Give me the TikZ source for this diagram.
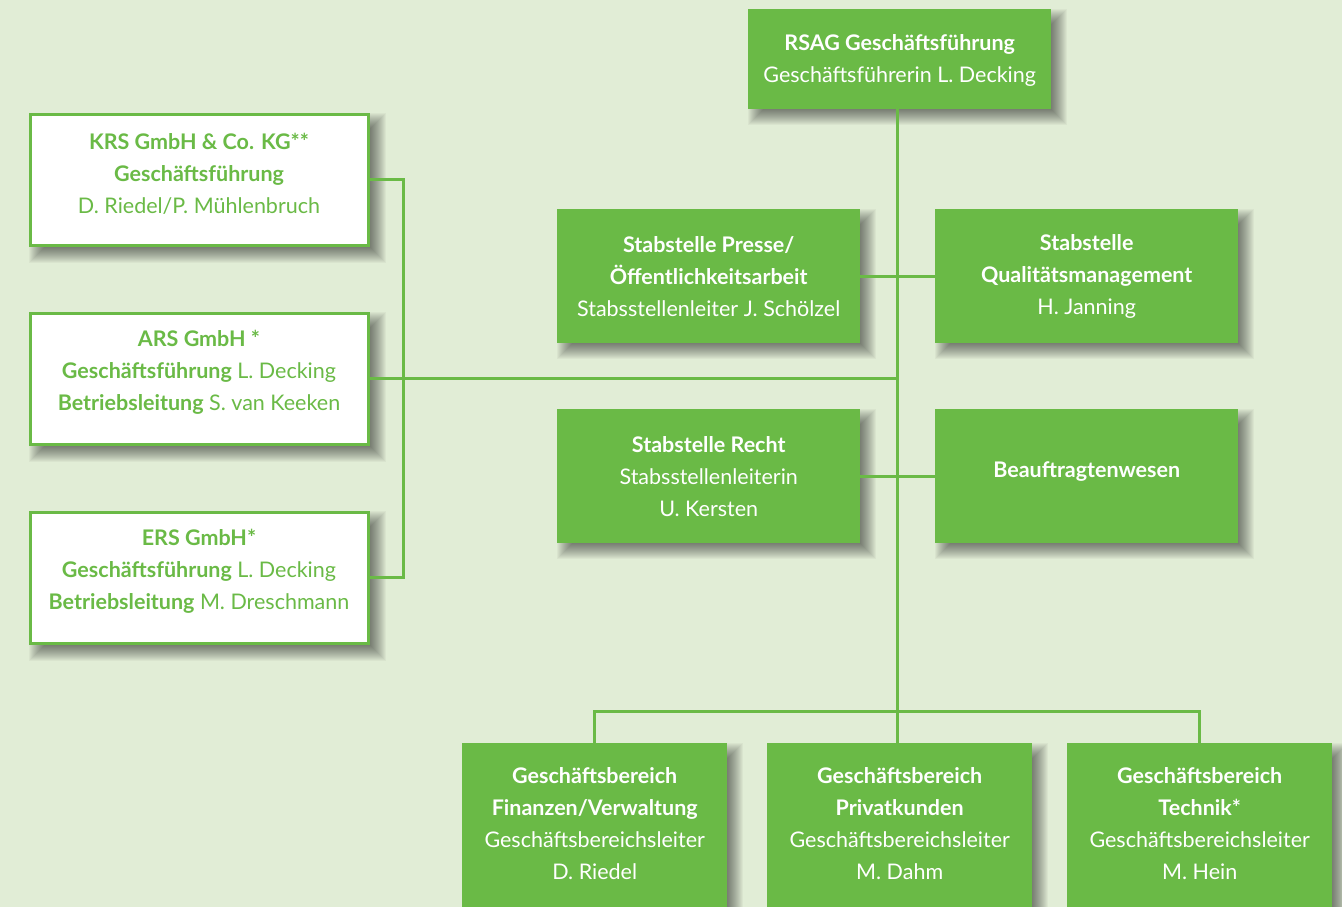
\documentclass[tikz,border=0pt]{standalone}
\usepackage{fontspec}
\setmainfont{Lato}
\definecolor{rsgreen}{HTML}{6ABA46}
\definecolor{bgc}{HTML}{E1EDD6}
\pgfdeclarelayer{bglayer}
\pgfdeclarelayer{shadowlayer}
\pgfsetlayers{bglayer,shadowlayer,main}
\begin{document}
\begin{tikzpicture}[x=1pt,y=-1pt,
  every node/.style={font=\fontsize{21.5}{32}\selectfont, align=center, inner sep=0pt},
  gbox/.style={fill=rsgreen, text=white, anchor=north west},
  wbox/.style={fill=white, draw=rsgreen, line width=3pt, anchor=north west},
  txt/.style={text=white},
  wtxt/.style={text=rsgreen},
  shadowpiece/.style={fill=black, opacity=0.036},
  link/.style={draw=rsgreen, line width=3pt}]
\useasboundingbox (0,0) rectangle (1342,907);
\clip (0,0) rectangle (1342,907);
\begin{pgfonlayer}{bglayer}
\fill[bgc] (0,0) rectangle (1342,907);
\end{pgfonlayer}

% top
\node[gbox, minimum width=303pt, minimum height=100pt] (rsag) at (748,9) {};
\node[txt] (rsagtxt) at ([yshift=-1.5pt]rsag.center)
  {\textbf{RSAG Geschäftsführung}\\Geschäftsführerin L. Decking};

% left companies
\node[wbox, minimum width=338pt, minimum height=131pt] (krs) at (28.5,112.5) {};
\node[wbox, minimum width=338pt, minimum height=131pt] (ars) at (28.5,311.5) {};
\node[wbox, minimum width=338pt, minimum height=131pt] (ers) at (28.5,510.5) {};
\node[wtxt] (krstxt) at ([yshift=6pt]krs.center)
  {\textbf{KRS GmbH \& Co. KG**}\\\textbf{Geschäftsführung}\\D. Riedel/P. Mühlenbruch};
\node[wtxt] (arstxt) at ([yshift=6pt]ars.center)
  {\textbf{ARS GmbH *}\\\textbf{Geschäftsführung} L. Decking\\\textbf{Betriebsleitung} S. van Keeken};
\node[wtxt] (erstxt) at ([yshift=6pt]ers.center)
  {\textbf{ERS GmbH*}\\\textbf{Geschäftsführung} L. Decking\\\textbf{Betriebsleitung} M. Dreschmann};

% staff units
\node[gbox, minimum width=303pt, minimum height=134pt] (presse) at (557,209)
  {\textbf{Stabstelle Presse/}\\\textbf{Öffentlichkeitsarbeit}\\Stabsstellenleiter J. Schölzel};
\node[gbox, minimum width=303pt, minimum height=134pt] (qual) at (935,209)
  {\textbf{Stabstelle}\\\textbf{Qualitätsmanagement}\\H. Janning};
\node[gbox, minimum width=303pt, minimum height=134pt] (recht) at (557,409)
  {\textbf{Stabstelle Recht}\\Stabsstellenleiterin\\U. Kersten};
\node[gbox, minimum width=303pt, minimum height=134pt] (beauf) at (935,409) {};
\node[txt] (beauftxt) at ([yshift=5pt]beauf.center) {\textbf{Beauftragtenwesen}};

% business units
\node[gbox, minimum width=265pt, minimum height=200pt] (fin) at (462,743) {};
\node[gbox, minimum width=265pt, minimum height=200pt] (priv) at (767,743) {};
\node[gbox, minimum width=265pt, minimum height=200pt] (tech) at (1067,743) {};
\node[txt] (fintxt) at ([yshift=-81pt]fin.north)
  {\textbf{Geschäftsbereich}\\\textbf{Finanzen/Verwaltung}\\Geschäftsbereichsleiter\\D. Riedel};
\node[txt] (privtxt) at ([yshift=-81pt]priv.north)
  {\textbf{Geschäftsbereich}\\\textbf{Privatkunden}\\Geschäftsbereichsleiter\\M. Dahm};
\node[txt] (techtxt) at ([yshift=-81pt]tech.north)
  {\textbf{Geschäftsbereich}\\\textbf{Technik*}\\Geschäftsbereichsleiter\\M. Hein};

% soft drop shadows
\begin{pgfonlayer}{shadowlayer}
\foreach \n in {rsag,krs,ars,ers,presse,qual,recht,beauf,fin,priv,tech} {
  \foreach \d in {-8,-7,...,8} {
    \fill[shadowpiece] ([shift={(8+\d,8+\d)}]\n.north west) rectangle ([shift={(8-\d,8-\d)}]\n.south east);
  }
}
\end{pgfonlayer}

% connectors
\coordinate (top) at (897,109);
\coordinate (lb) at (403,377);
\coordinate (bus) at (897,711);
\draw[link] (top) -- (top |- priv.north);
\draw[link] (presse.east) -- (qual.west);
\draw[link] (recht.east) -- (beauf.west);
\draw[link] (ars.east) -- (ars.east -| top);
\draw[link] (krs.east) -- (krs.east -| lb) -- (ers.east -| lb) -- (ers.east);
\draw[link] (fin.north) -- (fin.north |- bus) -- (tech.north |- bus) -- (tech.north);
\end{tikzpicture}
\end{document}
